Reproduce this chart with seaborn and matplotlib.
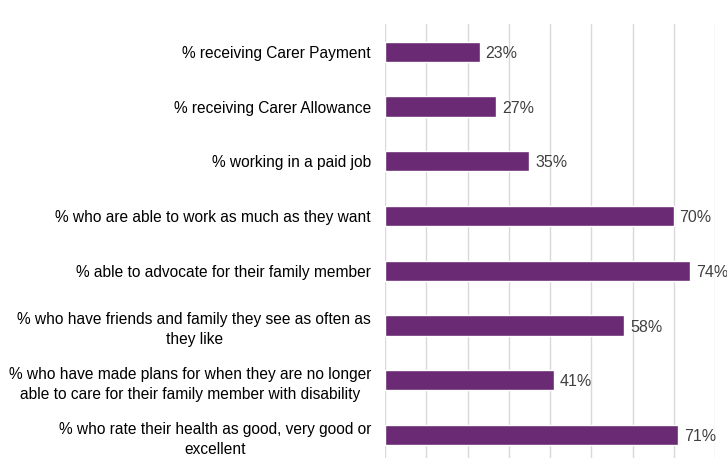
import pandas as pd
import matplotlib.pyplot as plt
import seaborn as sns

#-------------------------------------------------
l_label=['% receiving Carer Payment',
         '% receiving Carer Allowance',
         '% working in a paid job',
         '% who are able to work as much as they want',
         '% able to advocate for their family member',
         '% who have friends and family they see as often as\nthey like',
         '% who have made plans for when they are no longer\nable to care for their family member with disability',
         '% who rate their health as good, very good or\nexcellent']
l_val=[23, 27, 35, 70, 74, 58, 41, 71]
bar_color='#6B2A74'

#-------------------------------------------------
df=pd.DataFrame({'label': l_label, 'val': l_val})

sns.set_style('white')
plt.rcParams['font.family']=['Liberation Sans', 'DejaVu Sans']

fig=plt.figure(figsize=(7.27, 4.58), dpi=100)
ax=fig.add_axes([385/727, -4.4/458, 330/727, 438/458])
sns.barplot(x='val', y='label', data=df, color=bar_color, width=0.37,
            orient='h', ax=ax, saturation=1)

ax.set_xlim(0, 80)
ax.set_xticks(range(0, 81, 10))
ax.xaxis.grid(True, color='#D9D9D9', linewidth=1)
ax.set_axisbelow(True)
ax.tick_params(axis='x', length=0, labelbottom=False)
ax.tick_params(axis='y', length=0, pad=10, labelsize=11.2, labelcolor='black')
for lab in ax.get_yticklabels():
    lab.set_multialignment('center')
    lab.set_linespacing(1.45)
ax.set_xlabel('')
ax.set_ylabel('')
sns.despine(ax=ax, left=True, bottom=True)

for i, v in enumerate(l_val):
    ax.text(v+1.4, i+0.03, f'{v}%', va='center', ha='left', fontsize=11.5, color='#404040')

plt.savefig('out.png', dpi=100)
plt.close()
